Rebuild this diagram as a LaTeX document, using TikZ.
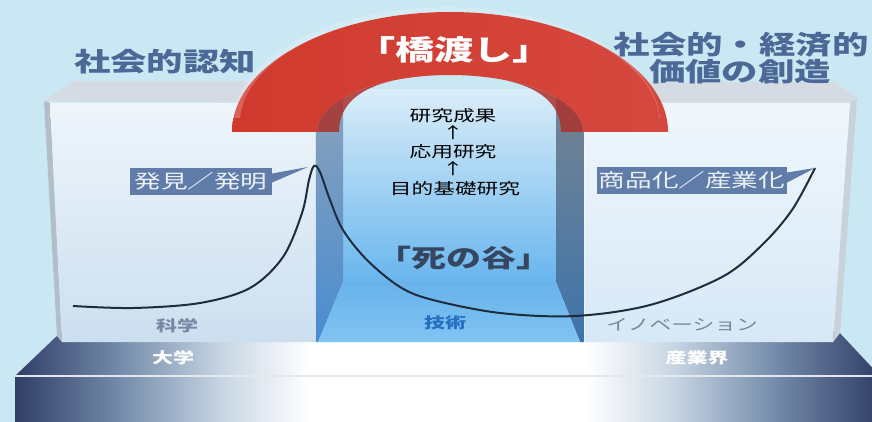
\documentclass[tikz,border=0pt]{standalone}
\usepackage{fontspec}
\newfontfamily\jp[FakeStretch=1.4]{Noto Sans CJK JP}
\usetikzlibrary{calc}
\definecolor{bgc}{RGB}{202,231,244}
\definecolor{navyd}{RGB}{48,62,102}
\definecolor{slabm}{RGB}{115,138,170}
\definecolor{slabl}{RGB}{200,214,228}
\definecolor{headc}{RGB}{76,104,150}
\definecolor{labc}{RGB}{96,125,170}
\definecolor{labt}{RGB}{236,241,248}
\definecolor{topface}{RGB}{212,219,227}
\definecolor{sidec}{RGB}{178,190,202}
\definecolor{curvec}{RGB}{30,44,64}
\definecolor{archl}{RGB}{208,58,46}
\definecolor{archm}{RGB}{222,110,106}
\definecolor{archr}{RGB}{214,72,62}
\definecolor{archd}{RGB}{170,50,44}
\definecolor{valleyc}{RGB}{55,70,96}
\definecolor{scic}{RGB}{122,136,166}
\definecolor{tecc}{RGB}{36,110,196}
\definecolor{innc}{RGB}{122,132,148}
\pgfdeclarehorizontalshading{slabshade}{100bp}{color(0bp)=(navyd); color(25bp)=(navyd); color(31bp)=(slabm); color(37bp)=(slabl); color(42bp)=(white); color(58bp)=(white); color(63bp)=(slabl); color(69bp)=(slabm); color(75bp)=(navyd); color(100bp)=(navyd)}
\tikzset{
  jpt/.style={font=\jp, inner sep=0pt},
  heading/.style={jpt, font=\jp\bfseries\fontsize{26}{28}\selectfont, text=headc},
  midtext/.style={jpt, font=\jp\fontsize{15.5}{17}\selectfont, text=black},
  labbox/.style={jpt, font=\jp\fontsize{19}{21}\selectfont, text=labt, fill=labc, minimum height=27pt},
  smalllab/.style={jpt, font=\jp\bfseries\fontsize{15}{17}\selectfont},
  curveline/.style={draw=curvec, line width=2pt},
}
\begin{document}
\begin{tikzpicture}[x=1pt,y=-1pt]
\useasboundingbox (0,0) rectangle (872,422);
\fill[bgc] (0,0) rectangle (872,422);
% slab
\shade[shading=slabshade] (60,333) -- (837,330) -- (880,376) -- (15,376) -- cycle;
\shade[shading=slabshade] (15,376) -- (880,376) -- (880,422) -- (15,422) -- cycle;
\draw[white!80!slabm, line width=1.2pt] (15,376) -- (880,376);
% left box
\fill[topface] (44,101) -- (75,81) -- (320,81) -- (315,103) -- cycle;
\fill[sidec] (44,101) -- (50,103) -- (62,342) -- (57,336) -- cycle;
\shade[top color={rgb,255:red,238;green,245;blue,251}, bottom color={rgb,255:red,204;green,223;blue,239}] (50,103) -- (315,103) -- (315,342) -- (62,342) -- cycle;
% right box
\fill[topface] (584,103) -- (610,82) -- (835,82) -- (857,98) -- (850,103) -- cycle;
\fill[sidec!70!white] (850,103) -- (857,98) -- (840,333) -- (833,342) -- cycle;
\shade[top color={rgb,255:red,240;green,247;blue,252}, bottom color={rgb,255:red,214;green,232;blue,246}] (584,103) -- (850,103) -- (833,342) -- (584,342) -- cycle;
% valley
\shade[top color={rgb,255:red,218;green,237;blue,249}, bottom color={rgb,255:red,104;green,182;blue,238}] (343,90) rectangle (556,282);
\shade[top color={rgb,255:red,140;green,162;blue,186}, bottom color={rgb,255:red,72;green,140;blue,208}] (315,90) -- (343,90) -- (343,282) -- (318,342) -- (315,342) -- cycle;
\shade[top color={rgb,255:red,118;green,132;blue,146}, bottom color={rgb,255:red,62;green,116;blue,170}] (556,90) -- (584,90) -- (584,342) -- (580,342) -- (556,282) -- cycle;
\shade[top color={rgb,255:red,104;green,178;blue,234}, bottom color={rgb,255:red,128;green,196;blue,242}] (343,282) -- (556,282) -- (580,342) -- (318,342) -- cycle;
\draw[white, opacity=0.7, line width=1pt] (315,103) -- (315,342);
\draw[white, opacity=0.7, line width=1pt] (584,103) -- (584,342);
% curve
\draw[curveline] plot[smooth, tension=0.55] coordinates {(73,306) (133,308) (200,303) (250,288) (283,257) (302,213) (309,180) (314,166) (320,172) (330,200) (343,230) (367,260) (400,287) (433,300) (500,313) (575,316) (650,305) (722,277) (762,245) (792,210) (815,168)};
% arch underside
\fill[archd, opacity=0.85] (317,132) arc[start angle=180, end angle=245, x radius=133, y radius=57] .. controls (352,90) and (339,110) .. (339,132) -- cycle;
\fill[archd, opacity=0.85] (583,132) arc[start angle=0, end angle=-65, x radius=133, y radius=57] .. controls (548,90) and (561,110) .. (561,132) -- cycle;
% arch
\shade[left color=archl, middle color=archm, right color=archr] (232,132) arc[start angle=180, end angle=360, x radius=218, y radius=120] -- (583,132) arc[start angle=0, end angle=-180, x radius=133, y radius=57] -- cycle;
\fill[white, opacity=0.2] (240,118) arc[start angle=183, end angle=357, x radius=210, y radius=112] -- (660,118) arc[start angle=357, end angle=183, x radius=214, y radius=117] -- cycle;
% headings
\node[heading] (cog) at (165,62) {社会的認知};
\node[heading] (soc1) at (741,45) {社会的・経済的};
\node[heading] (soc2) at (740,72) {価値の創造};
\node[jpt, font=\jp\bfseries\fontsize{28}{30}\selectfont, text=white] (bridge) at (454,50) {「橋渡し」};
% middle texts
\node[midtext] (res) at (453,116) {研究成果};
\node[midtext] (ar1) at (453,133) {↑};
\node[midtext] (app) at (453,152) {応用研究};
\node[midtext] (ar2) at (453,169) {↑};
\node[midtext] (bas) at (455,189) {目的基礎研究};
\node[jpt, font=\jp\bfseries\fontsize{25}{27}\selectfont, text=valleyc] (valley) at (464,258) {「死の谷」};
% callouts
\node[labbox, minimum width=142pt] (disc) at (201,181.5) {発見／発明};
\coordinate (disctip) at (308,167);
\fill[labc] ($(disc.east)+(0,-8)$) -- (disctip) -- ($(disc.east)+(0,1)$) -- cycle;
\node[labbox, minimum width=190pt] (comm) at (692,180.5) {商品化／産業化};
\coordinate (commtip) at (815,168);
\fill[labc] ($(comm.east)+(0,-8)$) -- (commtip) -- ($(comm.east)+(0,2)$) -- cycle;
% small labels
\node[smalllab, text=scic] (sci) at (177,326) {科学};
\node[smalllab, text=tecc] (tec) at (445,323) {技術};
\node[jpt, font=\jp\fontsize{15.5}{17}\selectfont, text=innc] (inn) at (682,325) {イノベーション};
\node[smalllab, text=white] (univ) at (173,358) {大学};
\node[smalllab, text=white] (ind) at (697,358) {産業界};
\end{tikzpicture}
\end{document}
